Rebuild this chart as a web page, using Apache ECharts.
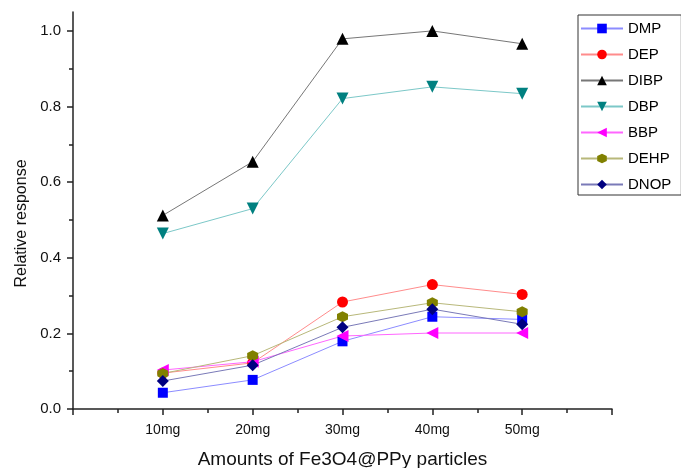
<!DOCTYPE html>
<html>
<head>
<meta charset="utf-8">
<script src="https://cdn.jsdelivr.net/npm/echarts@6/dist/echarts.min.js"></script>
<style>
html,body{margin:0;padding:0;background:#fff;}
#main{width:681px;height:468px;}
</style>
</head>
<body>
<div id="main"></div>
<script>
var categories = ['10mg', '20mg', '30mg', '40mg', '50mg'];
var yTicks = [0, 0.2, 0.4, 0.6, 0.8, 1.0];
var DMP  = [0.043, 0.077, 0.179, 0.244, 0.237];
var DEP  = [0.095, 0.122, 0.283, 0.329, 0.303];
var DIBP = [0.512, 0.654, 0.979, 1.000, 0.966];
var DBP  = [0.464, 0.530, 0.821, 0.852, 0.834];
var BBP  = [0.103, 0.125, 0.193, 0.201, 0.201];
var DEHP = [0.094, 0.141, 0.244, 0.281, 0.257];
var DNOP = [0.074, 0.116, 0.216, 0.264, 0.224];

function pts(arr) { return arr.map(function (v, i) { return [i + 1, v]; }); }

var hexagon = 'path://M0,-10L8.66,-5L8.66,5L0,10L-8.66,5L-8.66,-5Z';

function mk(name, data, color, lineColor, symbol, size, rotate) {
  return {
    name: name, type: 'line', data: pts(data),
    symbol: symbol, symbolSize: size, symbolRotate: rotate || 0,
    itemStyle: { color: color },
    lineStyle: { color: lineColor, width: 1 },
    emphasis: { disabled: true },
    animation: false
  };
}

var chart = echarts.init(document.getElementById('main'), null, { renderer: 'canvas' });
chart.setOption({
  backgroundColor: '#fff',
  animation: false,
  grid: { left: 73, right: 69, top: 12, bottom: 59, containLabel: false, outerBoundsMode: 'none' },
  legend: {
    orient: 'vertical', left: 578, top: 15,
    padding: [6, 10, 3, 2],
    itemWidth: 42, itemHeight: 12, itemGap: 11,
    borderColor: '#333', borderWidth: 1,
    textStyle: { fontFamily: 'Liberation Sans, Arial', fontSize: 15, color: '#000' },
    data: ['DMP', 'DEP', 'DIBP', 'DBP', 'BBP', 'DEHP', 'DNOP']
  },
  xAxis: {
    type: 'value', min: 0, max: 6, interval: 1,
    name: 'Amounts of Fe3O4@PPy particles', nameLocation: 'middle', nameGap: 41,
    nameTextStyle: { fontFamily: 'Liberation Sans, Arial', fontSize: 19, color: '#111' },
    axisLine: { show: true, lineStyle: { color: '#222', width: 1.5 } },
    axisTick: { show: true, length: 6, lineStyle: { color: '#222', width: 1.5 } },
    minorTick: { show: true, splitNumber: 2, length: 4, lineStyle: { color: '#222', width: 1.5 } },
    splitLine: { show: false },
    axisLabel: {
      margin: 14,
      fontFamily: 'Liberation Sans, Arial', fontSize: 14, color: '#111',
      formatter: function (v) { return (v >= 1 && v <= categories.length && v === Math.round(v)) ? categories[v - 1] : ''; }
    }
  },
  yAxis: {
    type: 'value', min: 0, max: 1.05, interval: 0.2,
    name: 'Relative response', nameLocation: 'middle', nameGap: 43,
    nameTextStyle: { fontFamily: 'Liberation Sans, Arial', fontSize: 16, color: '#111', padding: [0, 26, 0, 0] },
    axisLine: { show: true, lineStyle: { color: '#222', width: 1.5 } },
    axisTick: { show: true, length: 6, lineStyle: { color: '#222', width: 1.5 }, customValues: yTicks },
    minorTick: { show: true, splitNumber: 2, length: 4, lineStyle: { color: '#222', width: 1.5 } },
    splitLine: { show: false },
    axisLabel: {
      margin: 12, customValues: yTicks,
      fontFamily: 'Liberation Sans, Arial', fontSize: 15, color: '#111',
      formatter: function (v) { return v.toFixed(1); }
    }
  },
  series: [
    mk('DMP', DMP, '#0000ff', '#8c8cff', 'rect', 10),
    mk('DEP', DEP, '#ff0000', '#ff8c8c', 'circle', 11),
    mk('DIBP', DIBP, '#000000', '#777777', 'triangle', 12),
    mk('DBP', DBP, '#008080', '#7cc8c8', 'triangle', 12, 180),
    mk('BBP', BBP, '#ff00ff', '#ff66ff', 'triangle', 12, 90),
    mk('DEHP', DEHP, '#808000', '#b8b87a', hexagon, 11),
    mk('DNOP', DNOP, '#000080', '#7a7ab8', 'diamond', 12)
  ]
});
</script>
</body>
</html>
